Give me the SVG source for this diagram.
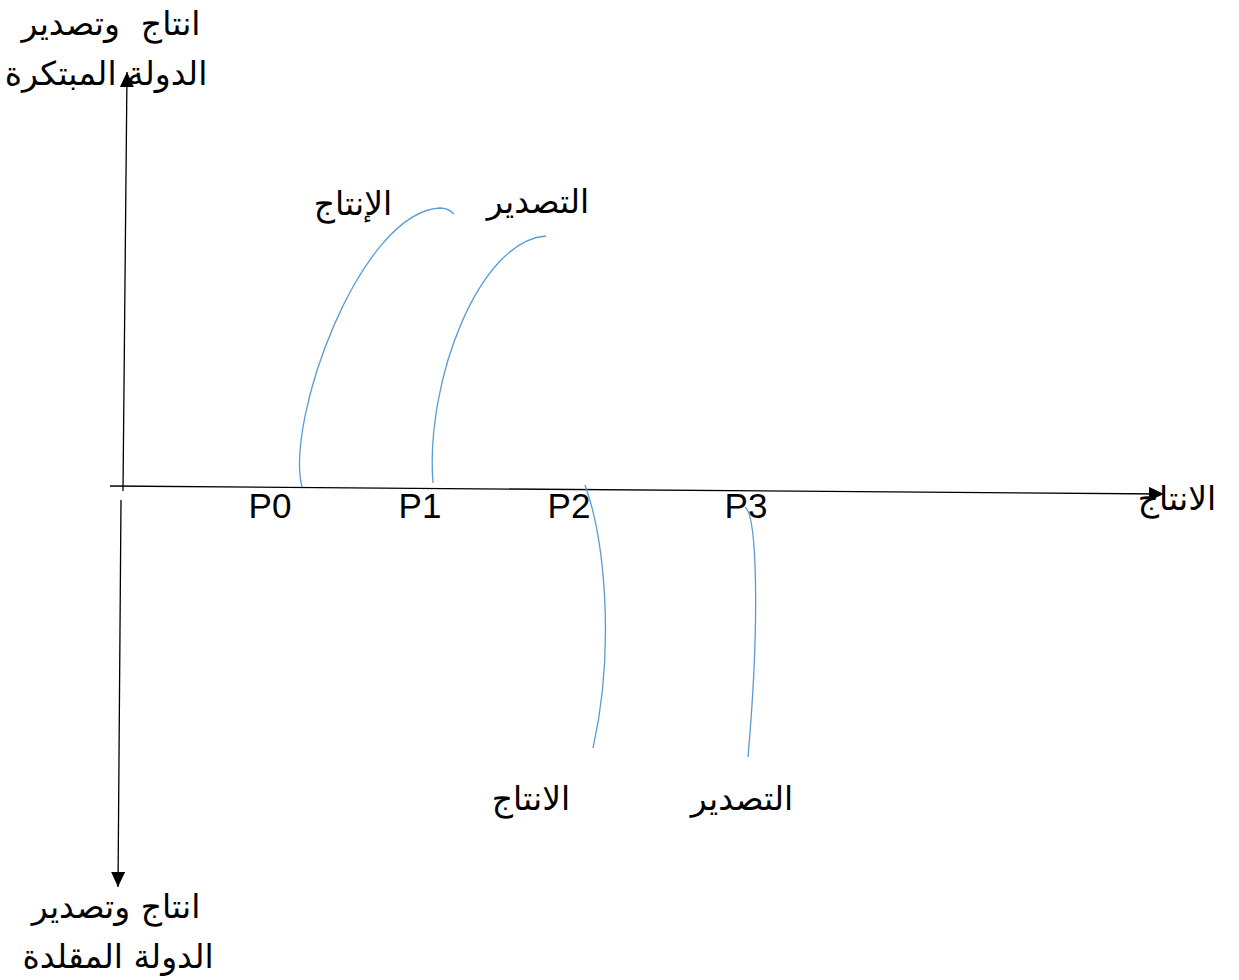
<svg xmlns="http://www.w3.org/2000/svg" width="1239" height="980" viewBox="0 0 1239 980">
<defs>
<marker id="arr" markerWidth="15" markerHeight="14" refX="15" refY="7" orient="auto" markerUnits="userSpaceOnUse" viewBox="0 0 15 14">
<path d="M0,0 L15,7 L0,14 z" fill="#000"/>
</marker>
<style>
.ax{stroke:#000;stroke-width:1.3;fill:none}
.cv{stroke:#5B9BD5;stroke-width:1.3;fill:none}
.ar{font-family:"DejaVu Sans","Noto Sans",sans-serif;font-size:33px;fill:#000;text-anchor:middle;white-space:pre}
.p{font-family:"Liberation Sans",Arial,sans-serif;font-size:35px;fill:#000;text-anchor:middle}
</style>
</defs>
<rect width="1239" height="980" fill="#fff"/>
<g id="connectors">
<path class="ax" d="M123,491 L127,72" marker-end="url(#arr)"/>
<path class="ax" d="M121,500 L118,887" marker-end="url(#arr)"/>
<path class="ax" d="M110,486 L1164,494" marker-end="url(#arr)"/>
<path class="cv" d="M302,487 C285,420 360,212 440,208 C447,208 451,211 454,214"/>
<path class="cv" d="M433,483 C425,380 480,240 546,236"/>
<path class="cv" d="M585,485 C605,540 615,650 593,748"/>
<path class="cv" d="M745,507 C757,515 760,620 748,757"/>
</g>
<g id="label-y-top">
<text class="ar" x="111" y="35" xml:space="preserve">انتاج  وتصدير</text>
<text class="ar" x="106" y="85">الدولة المبتكرة</text>
</g>
<g id="label-y-bottom">
<text class="ar" x="116" y="918">انتاج وتصدير</text>
<text class="ar" x="118" y="968">الدولة المقلدة</text>
</g>
<g id="label-x">
<text class="ar" x="1177" y="510">الانتاج</text>
</g>
<g id="p0"><text class="p" x="270" y="518">P0</text></g>
<g id="p1"><text class="p" x="420" y="518">P1</text></g>
<g id="p2"><text class="p" x="569" y="518">P2</text></g>
<g id="p3"><text class="p" x="746" y="518">P3</text></g>
<g id="curve-labels">
<text class="ar" x="353" y="215">الإنتاج</text>
<text class="ar" x="538" y="213">التصدير</text>
<text class="ar" x="531" y="810">الانتاج</text>
<text class="ar" x="742" y="810">التصدير</text>
</g>
</svg>
